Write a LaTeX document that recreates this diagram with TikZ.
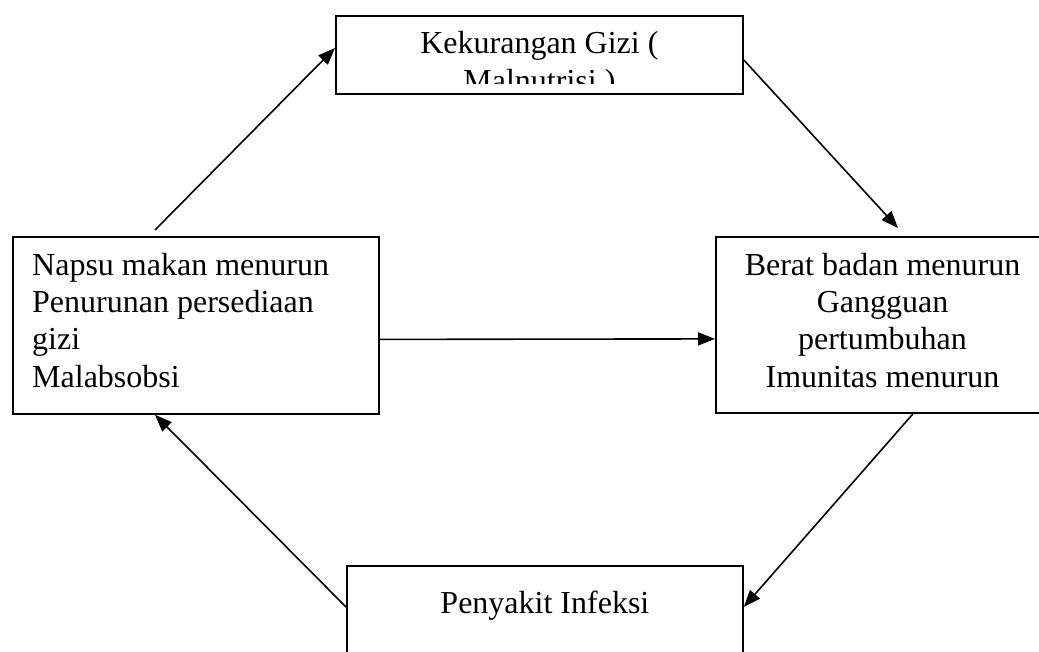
\documentclass[tikz,border=0pt]{standalone}
\usepackage{fontspec}
\setmainfont{Liberation Serif}
\usetikzlibrary{arrows.meta}
\tikzset{
  box/.style={draw=black, line width=1.8pt, fill=none, inner sep=0pt, anchor=north west},
  label/.style={inner sep=0pt, font=\fontsize{32}{37.3}\selectfont},
  conn/.style={draw=black, line width=1.6pt, -{Triangle[length=17pt,width=13pt]}}
}
\begin{document}
\begin{tikzpicture}[x=1pt,y=-1pt]
\path[use as bounding box, clip] (0,0) rectangle (1039,652);
\fill[white] (0,0) rectangle (1039,652);
% boxes
\node[box, minimum width=407pt, minimum height=78pt] (top) at (335,15) {};
\node[box, minimum width=366pt, minimum height=177pt] (left) at (12,236) {};
\node[box, minimum width=335pt, minimum height=176pt] (right) at (715,236) {};
\node[box, minimum width=396pt, minimum height=115pt] (bottom) at (346,565) {};
% texts
\begin{scope}
  \clip (335,15) rectangle (742,84);
  \node[label, align=center, anchor=base] (toptext) at ([yshift=-76.3pt]top.north) {Kekurangan Gizi (\\Malnutrisi )};
\end{scope}
\node[label, align=left, anchor=base west] (lefttext) at ([xshift=20pt,yshift=-151pt]left.north west) {Napsu makan menurun\\Penurunan persediaan\\gizi\\Malabsobsi};
\node[label, align=center, anchor=base] (righttext) at ([xshift=167.5pt,yshift=-151pt]right.north west) {Berat badan menurun\\Gangguan\\pertumbuhan\\Imunitas menurun};
\node[label, anchor=base] (bottomtext) at ([yshift=-48pt]bottom.north) {Penyakit Infeksi};
% connectors
\draw[conn] ([xshift=143pt,yshift=6pt]left.north west) -- ([yshift=-33pt]top.north west);
\draw[conn] ([yshift=-45pt]top.north east) -- ([xshift=183pt,yshift=8pt]right.north west);
\draw[conn] ([yshift=-14pt]left.east) -- ([yshift=-14pt]right.west);
\draw[conn] ([xshift=198pt]right.south west) -- ([yshift=-42pt]bottom.north east);
\draw[conn] ([yshift=-42pt]bottom.north west) -- ([xshift=143pt]left.south west);
\end{tikzpicture}
\end{document}
